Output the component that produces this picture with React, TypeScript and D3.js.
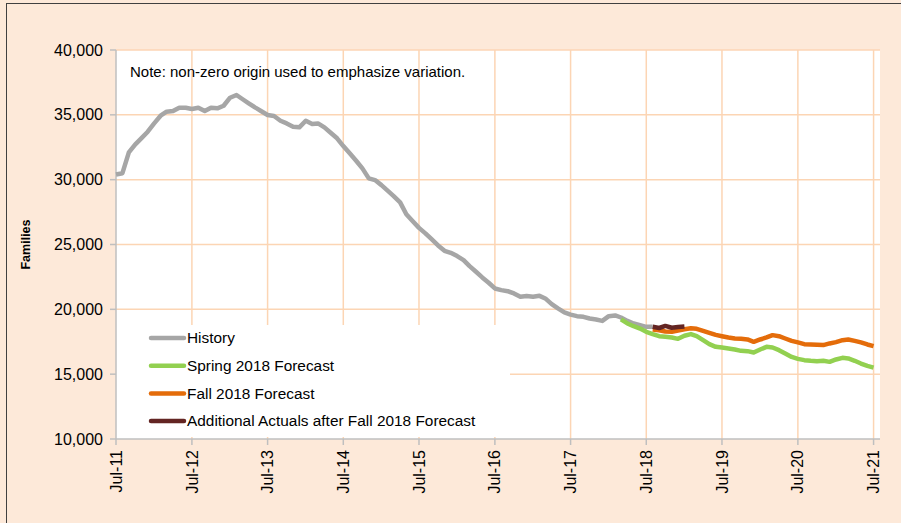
import * as d3 from "d3";

// month 0 = Jul-11, one value per month
const historyStart = 0;
const historyValues = [
  30400, 30500, 32100, 32700, 33200, 33700, 34340, 34930, 35240, 35290, 35550, 35550,
  35450, 35550, 35290, 35550, 35500, 35700, 36320, 36530, 36220, 35890, 35580, 35280,
  34985, 34910, 34545, 34340, 34085, 34035, 34545, 34290, 34340, 34035, 33620, 33190,
  32590, 32030, 31460, 30870, 30100, 29970, 29580, 29140, 28735, 28250, 27330, 26790,
  26280, 25860, 25390, 24930, 24515, 24360, 24105, 23800, 23330, 22895, 22460, 22050,
  21610, 21480, 21400, 21225, 20965, 21020, 20965, 21040, 20840, 20400, 20070, 19760,
  19590, 19475, 19420, 19290, 19220, 19110, 19475, 19530, 19370, 19110, 18910, 18780,
  18650, 18650,
];
const springStart = 80;
const springValues = [
  19220, 18910, 18700, 18520, 18265, 18090, 17930, 17880, 17830, 17725,
  17960, 18090, 17930, 17620, 17315, 17110, 17050, 16980, 16905, 16800,
  16775, 16670, 16905, 17110, 17060, 16850, 16595, 16330, 16180, 16080,
  16030, 16000, 16030, 15950, 16135, 16260, 16210, 16030, 15820, 15640, 15510,
];
const fallStart = 85;
const fallValues = [
  18450, 18390, 18290, 18265, 18370, 18470, 18540, 18500, 18340, 18190, 18030,
  17930, 17830, 17750, 17725, 17675, 17495, 17675, 17830, 18010, 17930, 17750,
  17570, 17450, 17315, 17290, 17265, 17240, 17370, 17470, 17620, 17675, 17570,
  17450, 17290, 17160,
];
const actualsStart = 85;
const actualsValues = [18650, 18560, 18720, 18580, 18640, 18680];

const yTicks = [10000, 15000, 20000, 25000, 30000, 35000, 40000];
const xTickYears = [2011, 2012, 2013, 2014, 2015, 2016, 2017, 2018, 2019, 2020, 2021];

const legendItems = [
  { label: "History", color: "#a6a6a6" },
  { label: "Spring 2018 Forecast", color: "#92d050" },
  { label: "Fall 2018 Forecast", color: "#e46c0a" },
  { label: "Additional Actuals after Fall 2018 Forecast", color: "#632523" },
];

const toSeries = (start: number, values: number[]) =>
  values.map((v, i) => ({ date: new Date(2011, 6 + start + i, 1), value: v }));

export default function App() {
  const width = 901;
  const height = 523;
  const plot = { left: 116, right: 880, top: 50, bottom: 439 };

  const x = d3
    .scaleTime()
    .domain([new Date(2011, 6, 1), new Date(2021, 7, 1)])
    .range([plot.left, plot.right]);
  const y = d3.scaleLinear().domain([10000, 40000]).range([plot.bottom, plot.top]);

  const line = d3
    .line<{ date: Date; value: number }>()
    .x((d) => x(d.date))
    .y((d) => y(d.value));

  const series = [
    { data: toSeries(historyStart, historyValues), color: legendItems[0].color },
    { data: toSeries(springStart, springValues), color: legendItems[1].color },
    { data: toSeries(fallStart, fallValues), color: legendItems[2].color },
    { data: toSeries(actualsStart, actualsValues), color: legendItems[3].color },
  ];

  const xTicks = xTickYears.map((yr) => new Date(yr, 6, 1));
  const fmt = d3.timeFormat("%b-%y");
  const font = "Arial, 'Liberation Sans', sans-serif";
  const grid = "#fcd5b4";
  const axis = "#bfbfbf";

  return (
    <svg
      width={width}
      height={height}
      style={{ position: "absolute", left: 0, top: 0, fontFamily: font }}
    >
      <rect x={0} y={0} width={width} height={height} fill="#fde9d9" />
      <rect x={6.5} y={3.5} width={width + 10} height={height + 10} fill="#fde9d9" stroke="#404040" />
      <rect
        x={plot.left}
        y={plot.top}
        width={plot.right - plot.left}
        height={plot.bottom - plot.top}
        fill="#ffffff"
      />

      {/* gridlines */}
      {yTicks.slice(1).map((t) => (
        <line key={"gy" + t} x1={plot.left} x2={plot.right} y1={y(t)} y2={y(t)} stroke={grid} strokeWidth={1.5} />
      ))}
      {xTicks.slice(1).map((t) => (
        <line key={"gx" + t.getTime()} x1={x(t)} x2={x(t)} y1={plot.top} y2={plot.bottom} stroke={grid} strokeWidth={1.5} />
      ))}

      {/* legend backdrop */}
      <rect x={plot.left} y={325} width={394} height={plot.bottom - 325 - 2} fill="#ffffff" />

      {/* axes */}
      <line x1={plot.left} x2={plot.left} y1={plot.top} y2={plot.bottom} stroke={axis} strokeWidth={1.5} />
      <line x1={plot.left} x2={plot.right} y1={plot.bottom} y2={plot.bottom} stroke={axis} strokeWidth={1.5} />
      {yTicks.map((t) => (
        <g key={"ty" + t}>
          <line x1={plot.left - 6} x2={plot.left} y1={y(t)} y2={y(t)} stroke={axis} strokeWidth={1.5} />
          <text x={103} y={y(t)} dy="0.35em" textAnchor="end" fontSize={16} fill="#000">
            {d3.format(",")(t)}
          </text>
        </g>
      ))}
      {xTicks.map((t) => (
        <g key={"tx" + t.getTime()}>
          <line x1={x(t)} x2={x(t)} y1={plot.bottom} y2={plot.bottom + 6} stroke={axis} strokeWidth={1.5} />
          <text
            transform={`translate(${x(t)},${plot.bottom + 11}) rotate(-90)`}
            dy="0.35em"
            textAnchor="end"
            fontSize={16}
            fill="#000"
          >
            {fmt(t)}
          </text>
        </g>
      ))}
      <text
        transform={`translate(26,${(plot.top + plot.bottom) / 2}) rotate(-90)`}
        dy="0.35em"
        textAnchor="middle"
        fontSize={12.5}
        fontWeight="bold"
      >
        Families
      </text>

      {/* series */}
      {series.map((s, i) => (
        <path key={"s" + i} d={line(s.data) ?? ""} fill="none" stroke={s.color} strokeWidth={4.5} strokeLinejoin="round" />
      ))}

      <text x={130} y={77} fontSize={15} fill="#000">
        Note: non-zero origin used to emphasize variation.
      </text>

      {/* legend */}
      {legendItems.map((item, i) => {
        const ly = 338 + i * 27.7;
        return (
          <g key={item.label}>
            <line x1={151} x2={184} y1={ly} y2={ly} stroke={item.color} strokeWidth={4.5} strokeLinecap="round" />
            <text x={187} y={ly} dy="0.35em" fontSize={15.4} fill="#000">
              {item.label}
            </text>
          </g>
        );
      })}
    </svg>
  );
}
